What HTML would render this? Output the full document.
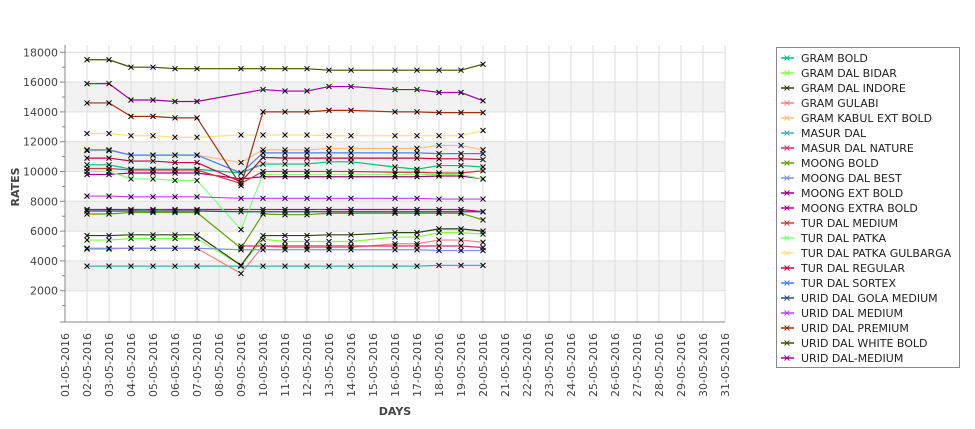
<!DOCTYPE html>
<html><head><meta charset="utf-8">
<style>
body{margin:0;background:#fff;}
svg{display:block;font-family:"DejaVu Sans","Liberation Sans",sans-serif;}
</style></head>
<body>
<svg id="chart" width="975" height="429" viewBox="0 0 975 429" xmlns="http://www.w3.org/2000/svg">
<g id="bands"></g>
<g id="grid"></g>
<g id="axes"></g>
<g id="series"></g>
<g id="legend"></g>
<text x="19" y="187" transform="rotate(-90 19 187)" text-anchor="middle" font-size="11" font-weight="bold" fill="#444">RATES</text>
<text x="395" y="415" text-anchor="middle" font-size="11" font-weight="bold" fill="#444">DAYS</text>
</svg>
<script>
const categories = ["01-05-2016","02-05-2016","03-05-2016","04-05-2016","05-05-2016","06-05-2016","07-05-2016","08-05-2016","09-05-2016","10-05-2016","11-05-2016","12-05-2016","13-05-2016","14-05-2016","15-05-2016","16-05-2016","17-05-2016","18-05-2016","19-05-2016","20-05-2016","21-05-2016","22-05-2016","23-05-2016","24-05-2016","25-05-2016","26-05-2016","27-05-2016","28-05-2016","29-05-2016","30-05-2016","31-05-2016"];
const dataDates = ["02-05-2016","03-05-2016","04-05-2016","05-05-2016","06-05-2016","07-05-2016","09-05-2016","10-05-2016","11-05-2016","12-05-2016","13-05-2016","14-05-2016","16-05-2016","17-05-2016","18-05-2016","19-05-2016","20-05-2016"];
const yTicks = [2000,4000,6000,8000,10000,12000,14000,16000,18000];
const seriesNames = ["GRAM BOLD","GRAM DAL BIDAR","GRAM DAL INDORE","GRAM GULABI","GRAM KABUL EXT BOLD","MASUR DAL","MASUR DAL NATURE","MOONG BOLD","MOONG DAL BEST","MOONG EXT BOLD","MOONG EXTRA BOLD","TUR DAL MEDIUM","TUR DAL PATKA","TUR DAL PATKA GULBARGA","TUR DAL REGULAR","TUR DAL SORTEX","URID DAL GOLA MEDIUM","URID DAL MEDIUM","URID DAL PREMIUM","URID DAL WHITE BOLD","URID DAL-MEDIUM"];
const seriesColors = ["#00c080","#80ff40","#304010","#ff8080","#ffc080","#40b0b0","#d03070","#60a000","#8090e0","#a00080","#c00080","#d04030","#80ff80","#ffe080","#d00040","#4080ff","#305080","#c040f0","#a03010","#405000","#a000a0"];
const sGramBold = [10450,10450,10150,10150,10150,10150,9900,10500,10500,10500,10650,10650,10300,10150,10400,10400,10300];
const sGramDalBidar = [5400,5400,5500,5500,5500,5500,3700,5450,5300,5300,5300,5300,5600,5600,5900,5900,5800];
const sGramDalIndore = [5700,5700,5750,5750,5750,5750,3700,5700,5700,5700,5750,5750,5900,5900,6150,6150,6000];
const sGramGulabi = [4800,4800,4850,4850,4850,4850,3150,5000,4900,4900,4900,4900,5150,5150,5400,5400,5250];
const sGramKabul = [11400,11400,11100,11100,11100,11100,10600,11450,11450,11450,11550,11550,11550,11550,11750,11750,11450];
const sMasurDal = [3650,3650,3650,3650,3650,3650,3650,3650,3650,3650,3650,3650,3650,3650,3700,3700,3700];
const sMasurDalNature = [null,null,null,null,null,null,5000,5000,5000,5000,5000,5000,5000,5000,5000,5000,4900];
const sMoongBold = [7150,7150,7250,7250,7250,7250,4850,7150,7100,7100,7200,7200,7200,7200,7200,7200,6750];
const sMoongDalBest = [4850,4850,4850,4850,4850,4850,4750,4750,4750,4750,4750,4750,4750,4750,4700,4700,4700];
const sMoongExtBold = [9800,9800,9900,9900,9900,9900,9500,9650,9650,9650,9650,9650,9650,9650,9700,9700,9500];
const sMoongExtraBold = [7450,7450,7450,7450,7450,7450,7450,7450,7450,7450,7450,7450,7450,7450,7450,7450,7300];
const sTurDalMedium = [10200,10200,10100,10100,10100,10100,9200,10000,10000,10000,10000,10000,9950,9950,9900,9900,10050];
const sTurDalPatka = [10000,10000,9500,9500,9400,9400,6100,9800,9800,9800,9800,9800,9800,9800,9800,9800,9500];
const sTurDalPatkaGul = [12550,12550,12400,12400,12300,12300,12450,12450,12450,12450,12400,12400,12400,12400,12400,12400,12750];
const sTurDalRegular = [10900,10900,10700,10700,10600,10600,9300,10950,10900,10900,10900,10900,10900,10900,10850,10850,10800];
const sTurDalSortex = [11450,11450,11100,11100,11100,11100,9900,11250,11250,11250,11250,11250,11250,11250,11200,11200,11200];
const sUridGola = [7350,7350,7350,7350,7350,7350,7300,7300,7300,7300,7300,7300,7300,7300,7300,7300,7300];
const sUridMedium = [8350,8350,8300,8300,8300,8300,8200,8200,8200,8200,8200,8200,8200,8200,8150,8150,8150];
const sUridPremium = [14600,14600,13700,13700,13600,13600,9050,14000,14000,14000,14100,14100,14000,14000,13950,13950,13950];
const sUridWhiteBold = [17500,17500,17000,17000,16900,16900,16900,16900,16900,16900,16800,16800,16800,16800,16800,16800,17200];
const sUridDalMedium2 = [15900,15900,14800,14800,14700,14700,null,15500,15400,15400,15700,15700,15500,15500,15300,15300,14750];
const seriesValues = [sGramBold,sGramDalBidar,sGramDalIndore,sGramGulabi,sGramKabul,sMasurDal,sMasurDalNature,sMoongBold,sMoongDalBest,sMoongExtBold,sMoongExtraBold,sTurDalMedium,sTurDalPatka,sTurDalPatkaGul,sTurDalRegular,sTurDalSortex,sUridGola,sUridMedium,sUridPremium,sUridWhiteBold,sUridDalMedium2];

const NS="http://www.w3.org/2000/svg";
const L=65,R=725,T=45,B=322;
const x0=65,dx=22;
function xPos(cat){return x0+categories.indexOf(cat)*dx;}
function yPos(v){return 320.5-v*0.0149;}
function mk(tag,attrs,parent){const e=document.createElementNS(NS,tag);for(const k in attrs)e.setAttribute(k,attrs[k]);parent.appendChild(e);return e;}

const bands=document.getElementById('bands');
mk('rect',{x:L,y:T,width:R-L,height:B-T,fill:'#fff'},bands);
for(let i=0;i<yTicks.length-1;i++){
  const v=yTicks[i];
  if(i%2===0){
    const r=mk('rect',{x:L,y:yPos(v+2000),width:R-L,height:yPos(v)-yPos(v+2000),fill:'#f2f2f2'},bands);
    
    
  }
}
const grid=document.getElementById('grid');
categories.forEach(c=>{
  const l=mk('line',{x1:xPos(c),x2:xPos(c),y1:T,y2:B,stroke:'#dedede','stroke-width':1},grid);
  
  
});
yTicks.forEach(v=>{
  const l=mk('line',{x1:L,x2:R,y1:yPos(v),y2:yPos(v),stroke:'#dedede','stroke-width':1},grid);
  
  
});
const axes=document.getElementById('axes');
mk('line',{x1:L,x2:L,y1:T,y2:B,stroke:'#888'},axes);
mk('line',{x1:60,x2:R,y1:B,y2:B,stroke:'#888'},axes);
yTicks.forEach(v=>{
  mk('line',{x1:60,x2:L,y1:yPos(v),y2:yPos(v),stroke:'#888'},axes);
  mk('line',{x1:62,x2:L,y1:yPos(v-1000),y2:yPos(v-1000),stroke:'#888'},axes);
  const t=mk('text',{x:58,y:yPos(v)+4,'text-anchor':'end','font-size':11,fill:'#444'},axes);
  t.textContent=v;
  
  
});
categories.forEach(c=>{
  const x=xPos(c)+4,y=333;
  const t=mk('text',{x:x,y:y,transform:`rotate(-90 ${x} ${y})`,'text-anchor':'end','font-size':11,fill:'#444'},axes);
  t.textContent=c;
  
  
});
const sg=document.getElementById('series');
seriesValues.forEach((vals,si)=>{
  const g=mk('g',{},sg);
  
  
  const pts=[];
  vals.forEach((v,i)=>{if(v!==null)pts.push([xPos(dataDates[i]),yPos(v)]);});
  const p=mk('polyline',{points:pts.map(p=>p.join(',')).join(' '),fill:'none',stroke:seriesColors[si],'stroke-width':1.2},g);
  
  
  pts.forEach(([x,y])=>{
    const m=mk('path',{d:`M${x-2.5},${y-2.5}L${x+2.5},${y+2.5}M${x-2.5},${y+2.5}L${x+2.5},${y-2.5}`,stroke:'#000','stroke-width':1},g);
    
    
  });
});
const lg=document.getElementById('legend');
mk('rect',{x:776.5,y:47.5,width:183,height:320,fill:'#fff',stroke:'#888'},lg);
seriesNames.forEach((n,i)=>{
  const y=58+i*15;
  const g=mk('g',{},lg);
  
  
  mk('line',{x1:781,x2:794,y1:y,y2:y,stroke:seriesColors[i],'stroke-width':1.5},g);
  mk('path',{d:`M${784.5},${y-2.5}L${789.5},${y+2.5}M${784.5},${y+2.5}L${789.5},${y-2.5}`,stroke:seriesColors[i],'stroke-width':1},g);
  const t=mk('text',{x:801,y:y+4,'font-size':11,fill:'#222'},g);
  t.textContent=n;
});
</script>
</body></html>
